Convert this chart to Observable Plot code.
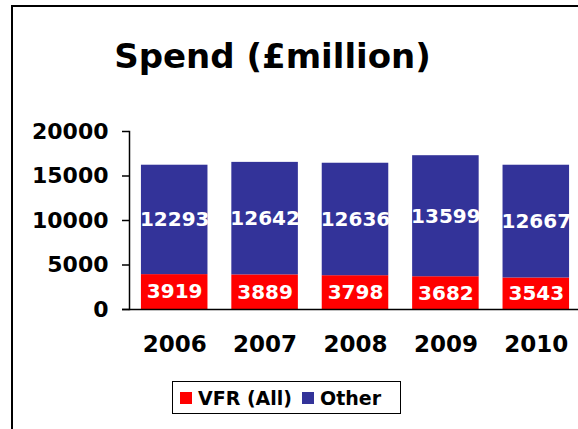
<!DOCTYPE html>
<html>
<head>
<meta charset="utf-8">
<script src="https://cdn.jsdelivr.net/npm/d3@7"></script>
<script src="https://cdn.jsdelivr.net/npm/@observablehq/plot@0.6"></script>
<style>
  html, body { margin: 0; padding: 0; background: #fff; overflow: hidden; }
  #page { position: relative; width: 578px; height: 429px; overflow: hidden; font-family: "DejaVu Sans", Verdana, sans-serif; }
  #frame { position: absolute; left: 11px; top: 5px; width: 700px; height: 600px; border: 2px solid #000; box-sizing: border-box; }
  #title { position: absolute; left: 0; width: 545px; top: 34px; text-align: center; font-weight: bold; font-size: 34px; line-height: 44px; color: #000; }
  #chart { position: absolute; left: 0; top: 0; width: 581px; }
  #chart svg { max-width: none !important; }
  #legend { position: absolute; left: 172px; top: 381px; width: 229px; height: 33px; border: 1.5px solid #000; box-sizing: border-box; background: #fff; display: flex; align-items: center; font-weight: bold; font-size: 19px; color: #000; }
  .item { display: flex; align-items: center; margin-left: 7px; }
  .item + .item { margin-left: 10px; }
  .sw { width: 12px; height: 12px; margin-right: 6px; }
</style>
</head>
<body>
<div id="page">
  <div id="frame"></div>
  <div id="title">Spend (£million)</div>
  <div id="chart"></div>
  <div id="legend"></div>
</div>
<script>
const years = ["2006", "2007", "2008", "2009", "2010"];
const seriesNames = ["VFR (All)", "Other"];
const vfr = [3919, 3889, 3798, 3682, 3543];
const other = [12293, 12642, 12636, 13599, 12667];
const colors = ["#ff0000", "#333399"];
const yTicks = [0, 5000, 10000, 15000, 20000];

const data = [];
years.forEach((y, i) => {
  data.push({year: y, series: seriesNames[0], value: vfr[i]});
  data.push({year: y, series: seriesNames[1], value: other[i]});
});

let frameLeft;
try { frameLeft = Plot.frame({anchor: "left", stroke: "#000", strokeWidth: 1.5}); } catch (e) { frameLeft = null; }

const plot = Plot.plot({
  width: 581,
  height: 429,
  marginTop: 131,
  marginBottom: 120,
  marginLeft: 129,
  marginRight: 0,
  style: {fontFamily: "'DejaVu Sans', Verdana, sans-serif", background: "transparent", overflow: "visible", maxWidth: "none"},
  x: {domain: years, paddingInner: 0.264, paddingOuter: 0.132, round: false, label: null},
  y: {domain: [0, 20000], label: null},
  color: {domain: seriesNames, range: colors},
  marks: [
    Plot.barY(data, Plot.stackY({x: "year", y: "value", fill: "series", order: null})),
    Plot.text(data, Plot.stackY({x: "year", y: "value", z: "series", order: null, text: d => String(d.value), fill: "white", fontWeight: "bold", fontSize: 20})),
    Plot.axisY({ticks: yTicks, tickFormat: d => String(d), tickSize: 7, tickPadding: 14, fontSize: 22, fontWeight: "bold", stroke: "#000", strokeWidth: 1.5, color: "#000", label: null}),
    Plot.axisX({tickSize: 0, tickPadding: 26, fontSize: 23, fontWeight: "bold", color: "#000", label: null}),
    frameLeft,
    Plot.ruleY([0], {stroke: "#000", strokeWidth: 1.5, insetLeft: -7})
  ].filter(Boolean)
});
document.getElementById("chart").appendChild(plot);

const legend = document.getElementById("legend");
seriesNames.forEach((name, i) => {
  const item = document.createElement("div");
  item.className = "item";
  const sw = document.createElement("div");
  sw.className = "sw";
  sw.style.background = colors[i];
  const label = document.createElement("span");
  label.textContent = name;
  item.appendChild(sw);
  item.appendChild(label);
  legend.appendChild(item);
});
</script>
</body>
</html>
